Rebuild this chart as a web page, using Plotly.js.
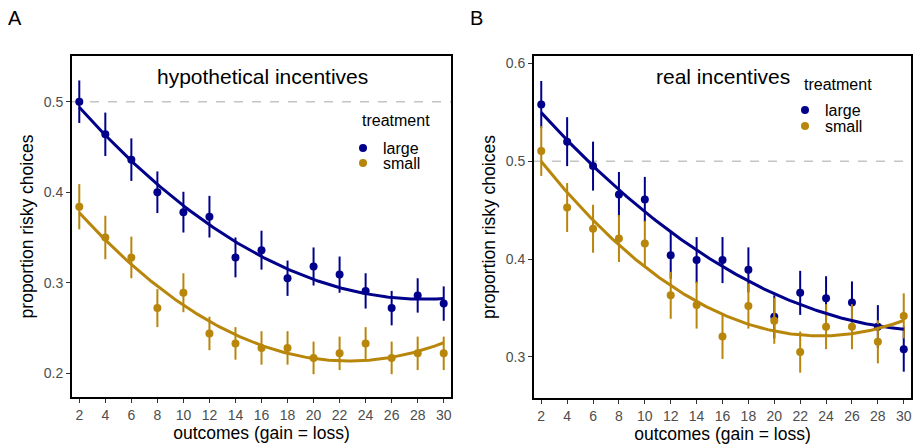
<!DOCTYPE html>
<html>
<head>
<meta charset="utf-8">
<script src="https://cdn.plot.ly/plotly-3.0.1.min.js"></script>
<style>html,body{margin:0;padding:0;background:#fff}#chart{width:915px;height:445px}</style>
</head>
<body>
<div id="chart"></div>
<script>
// ---- data ----
const outcomes = [2,4,6,8,10,12,14,16,18,20,22,24,26,28,30];

const hypLarge    = [0.500,0.464,0.436,0.400,0.378,0.373,0.328,0.336,0.305,0.318,0.309,0.291,0.272,0.286,0.277];
const hypLargeErr = [0.0235,0.024,0.0235,0.023,0.0225,0.023,0.022,0.0215,0.0195,0.021,0.020,0.0195,0.019,0.019,0.019];
const hypSmall    = [0.384,0.350,0.328,0.272,0.289,0.244,0.233,0.228,0.228,0.217,0.222,0.233,0.217,0.222,0.222];
const hypSmallErr = [0.025,0.024,0.023,0.021,0.0215,0.0185,0.018,0.0185,0.0185,0.018,0.0185,0.018,0.018,0.0185,0.0185];

const realLarge    = [0.558,0.520,0.495,0.466,0.461,0.404,0.399,0.399,0.389,0.341,0.3655,0.360,0.3557,0.331,0.308];
const realLargeErr = [0.024,0.025,0.025,0.023,0.023,0.024,0.0235,0.0235,0.023,0.022,0.0225,0.0225,0.0215,0.022,0.023];
const realSmall    = [0.5105,0.4527,0.431,0.421,0.416,0.363,0.353,0.321,0.352,0.337,0.305,0.331,0.331,0.3155,0.342];
const realSmallErr = [0.0255,0.025,0.0245,0.024,0.023,0.024,0.024,0.023,0.023,0.0235,0.021,0.023,0.023,0.022,0.023];

const groups = ['large','small'];
const colors = {large:'#00008B', small:'#B8860B'};
const panelTitles = ['hypothetical incentives','real incentives'];
const yTicksA = [0.2,0.3,0.4,0.5];
const yTicksB = [0.3,0.4,0.5,0.6];

// ---- quadratic least-squares fit (as geom_smooth with poly(x,2)) ----
function quadFit(xs, ys){
  let S=[0,0,0,0,0], T=[0,0,0];
  for(let i=0;i<xs.length;i++){
    const x=xs[i], y=ys[i];
    let p=1;
    for(let k=0;k<5;k++){ S[k]+=p; if(k<3) T[k]+=p*y; p*=x; }
  }
  const A=[[S[0],S[1],S[2],T[0]],[S[1],S[2],S[3],T[1]],[S[2],S[3],S[4],T[2]]];
  for(let c=0;c<3;c++){
    for(let r=c+1;r<3;r++){
      const f=A[r][c]/A[c][c];
      for(let k=c;k<4;k++) A[r][k]-=f*A[c][k];
    }
  }
  const b=[0,0,0];
  for(let r=2;r>=0;r--){
    let s=A[r][3];
    for(let k=r+1;k<3;k++) s-=A[r][k]*b[k];
    b[r]=s/A[r][r];
  }
  return b;
}
function fitCurve(xs, ys){
  const b = quadFit(xs, ys);
  const fx=[], fy=[];
  const lo=xs[0], hi=xs[xs.length-1];
  for(let i=0;i<=200;i++){
    const x = lo + (hi-lo)*i/200;
    fx.push(x); fy.push(b[0]+b[1]*x+b[2]*x*x);
  }
  return {fx, fy};
}

const W=915, H=445;
const px = v => v/W;
const py = v => 1 - v/H;

const panels = [
  {xa:'x', ya:'y', data:{large:hypLarge, small:hypSmall}, err:{large:hypLargeErr, small:hypSmallErr}, legends:['legend','legend2']},
  {xa:'x2', ya:'y2', data:{large:realLarge, small:realSmall}, err:{large:realLargeErr, small:realSmallErr}, legends:['legend3','legend4']}
];

const traces = [];
panels.forEach(p => {
  groups.forEach((g,gi) => {
    traces.push({
      type:'scatter', mode:'markers', x:outcomes, y:p.data[g], xaxis:p.xa, yaxis:p.ya,
      name:g, legend:p.legends[gi], showlegend:true,
      marker:{color:colors[g], size:8},
      error_y:{type:'data', array:p.err[g], visible:true, color:colors[g], thickness:2, width:0},
      hoverinfo:'x+y'
    });
  });
  groups.forEach(g => {
    const c = fitCurve(outcomes, p.data[g]);
    traces.push({
      type:'scatter', mode:'lines', x:c.fx, y:c.fy, xaxis:p.xa, yaxis:p.ya,
      showlegend:false, line:{color:colors[g], width:3}, hoverinfo:'skip'
    });
  });
});

const FONT = 'Liberation Sans, Arial, Helvetica, sans-serif';
function xAxis(domain){
  return {
    domain, range:[1.44,30.56], tickvals:outcomes, ticks:'outside', ticklen:4, tickwidth:1, tickcolor:'#333333',
    tickfont:{size:14, color:'#4d4d4d', family:FONT},
    showline:true, mirror:true, linecolor:'#000', linewidth:2, showgrid:false, zeroline:false,
    title:{text:'outcomes (gain = loss)', font:{size:17.5, color:'#000', family:FONT}, standoff:4}
  };
}
function yAxis(domain, range, ticks, anchor){
  return {
    domain, range, tickvals:ticks, tickformat:'.1f', anchor, ticks:'outside', ticklen:4, tickwidth:1, tickcolor:'#333333',
    tickfont:{size:14, color:'#4d4d4d', family:FONT},
    showline:true, mirror:true, linecolor:'#000', linewidth:2, showgrid:false, zeroline:false,
    title:{text:'proportion risky choices', font:{size:17.5, color:'#000', family:FONT}, standoff:6}
  };
}

function leg(xpix, ypix){
  return {x:px(xpix), y:py(ypix), xanchor:'left', yanchor:'middle', bgcolor:'rgba(0,0,0,0)', borderwidth:0,
          font:{size:16, color:'#000', family:FONT}, itemwidth:30, tracegroupgap:0};
}

const layout = {
  width:W, height:H, margin:{l:0,r:0,t:0,b:0}, paper_bgcolor:'#fff', plot_bgcolor:'#fff',
  font:{family:FONT},
  showlegend:true,
  xaxis: Object.assign(xAxis([px(72), px(451)]), {anchor:'y'}),
  yaxis: yAxis([py(397), py(56)], [0.1738,0.5505], yTicksA, 'x'),
  xaxis2: Object.assign(xAxis([px(534), px(911)]), {anchor:'y2'}),
  yaxis2: yAxis([py(398), py(56)], [0.2581,0.6075], yTicksB, 'x2'),
  legend: leg(343, 148),
  legend2: leg(343, 163),
  legend3: leg(785, 110),
  legend4: leg(785, 126),
  shapes: [
    {type:'line', xref:'x domain', yref:'y', x0:0, x1:1, y0:0.5, y1:0.5, line:{color:'#c4c4c4', width:1.5, dash:'dash'}, layer:'below'},
    {type:'line', xref:'x2 domain', yref:'y2', x0:0, x1:1, y0:0.5, y1:0.5, line:{color:'#c4c4c4', width:1.5, dash:'dash'}, layer:'below'}
  ],
  annotations: [
    {text:'A', xref:'paper', yref:'paper', x:px(15), y:py(18), showarrow:false, xanchor:'center', yanchor:'middle', font:{size:20, color:'#000', family:FONT}},
    {text:'B', xref:'paper', yref:'paper', x:px(477), y:py(18), showarrow:false, xanchor:'center', yanchor:'middle', font:{size:20, color:'#000', family:FONT}},
    {text:panelTitles[0], xref:'paper', yref:'paper', x:px(262), y:py(77), showarrow:false, xanchor:'center', yanchor:'middle', font:{size:21, color:'#000', family:FONT}},
    {text:panelTitles[1], xref:'paper', yref:'paper', x:px(723), y:py(77), showarrow:false, xanchor:'center', yanchor:'middle', font:{size:21, color:'#000', family:FONT}},
    {text:'treatment', xref:'paper', yref:'paper', x:px(360), y:py(121), showarrow:false, xanchor:'left', yanchor:'middle', font:{size:16, color:'#000', family:FONT}},
    {text:'treatment', xref:'paper', yref:'paper', x:px(802), y:py(84), showarrow:false, xanchor:'left', yanchor:'middle', font:{size:16, color:'#000', family:FONT}}
  ]
};

Plotly.newPlot('chart', traces, layout, {displayModeBar:false, staticPlot:true});
</script>
</body>
</html>
